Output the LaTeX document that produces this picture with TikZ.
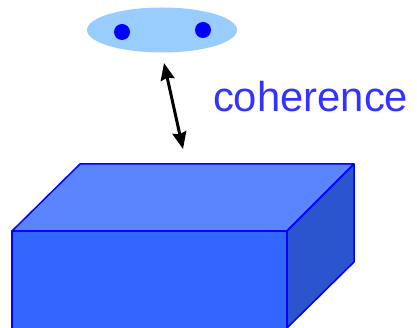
\documentclass[tikz,border=0pt]{standalone}
\usepackage{fontspec}
\setmainfont{Liberation Sans}
\usetikzlibrary{
  arrows.meta,
  positioning,
  shapes.geometric
}

\definecolor{pairfill}{RGB}{153,204,255}
\definecolor{dotblue}{RGB}{0,0,255}
\definecolor{topface}{RGB}{91,132,255}
\definecolor{frontface}{RGB}{51,102,255}
\definecolor{sideface}{RGB}{42,85,204}
\definecolor{textblue}{RGB}{51,51,255}

\begin{document}
\begin{tikzpicture}[x=1pt, y=-1pt]
\useasboundingbox (0,0) rectangle (417,328);
\clip (0,0) rectangle (417,328);

% -------------------------
% Nodes
% -------------------------
\begin{scope}[
  every node/.style={inner sep=0pt, outer sep=0pt}
]

% Electron pair
\node[ellipse, fill=pairfill, minimum width=150pt, minimum height=45pt] (pair) at (162,30) {};
\node[circle, fill=dotblue, minimum size=16pt] (dotL) at (122,32) {};
\node[circle, fill=dotblue, minimum size=16pt] (dotR) at (203,30) {};

% Label
\node[anchor=base west, text=textblue, font=\fontsize{41.8}{46}\selectfont] (coh) at (213,112) {coherence};

\end{scope}

% Free ends of the arrow
\coordinate (arrTop) at (164,63);
\coordinate (arrBot) at (183,149);

% -------------------------
% Box
% -------------------------
\coordinate (fl) at (12,231);
\coordinate (fr) at (287,231);
\coordinate (bl) at (80,164);
\coordinate (br) at (354,164);
\coordinate (sb) at (354,262);
\coordinate (frb) at (287,328);
\coordinate (flb) at (12,340);
\coordinate (frb2) at (287,340);

\begin{scope}[draw=dotblue, line width=1.5pt, line join=round]
\filldraw[fill=topface]   (fl) -- (bl) -- (br) -- (fr) -- cycle;
\filldraw[fill=sideface]  (fr) -- (br) -- (sb) -- (frb) -- cycle;
\filldraw[fill=frontface] (fl) -- (fr) -- (frb2) -- (flb) -- cycle;
\end{scope}

% -------------------------
% Edges
% -------------------------
\begin{scope}[>={Stealth[black, length=17pt, width=14pt, inset=2pt]}]
\path [<->, draw, line width=3pt] (arrTop) -- (arrBot);
\end{scope}

\end{tikzpicture}
\end{document}
